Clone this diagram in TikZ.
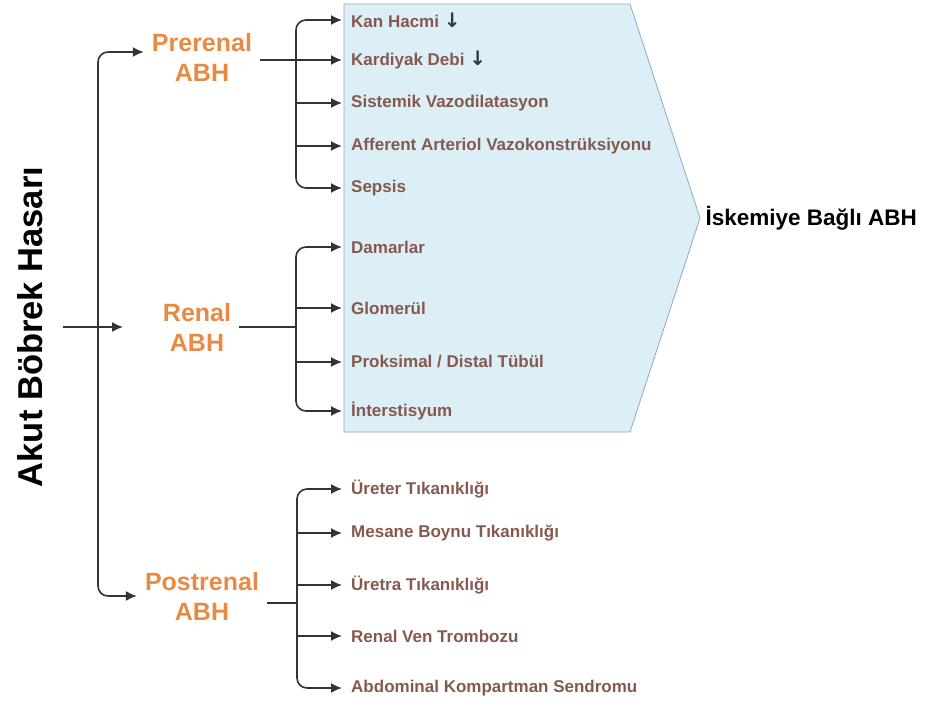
\documentclass[tikz,border=0pt]{standalone}
\usepackage{fontspec}
\setmainfont{Liberation Sans}
\newfontfamily\arrowfont{DejaVu Sans}
\usetikzlibrary{arrows.meta}

\definecolor{linegray}{HTML}{333333}
\definecolor{abhorange}{HTML}{E98A44}
\definecolor{itembrown}{HTML}{86594F}
\definecolor{boxfill}{HTML}{DCEEF6}
\definecolor{boxedge}{HTML}{90A8C8}
\definecolor{arrowdark}{HTML}{2F3A44}

\begin{document}
\begin{tikzpicture}[x=1pt, y=-1pt,
        link/.style={draw=linegray, line width=1.6pt},
        arr/.style={link, -{Latex[length=11pt,width=10pt]}},
        elbow/.style={arr, rounded corners=10pt},
        title/.style={rotate=90, font=\fontsize{34.5}{40}\selectfont\bfseries},
        group/.style={text=abhorange, align=center, inner sep=8pt,
            font=\fontsize{25}{30}\selectfont\bfseries},
        item/.style={anchor=west, inner xsep=9pt, inner ysep=2pt, text=itembrown,
            font=\fontsize{17}{20}\selectfont\bfseries}]
        \useasboundingbox (0,0) rectangle (933,706);

        % ischemia area
        \draw [boxedge, fill=boxfill, line width=0.8pt]
            (344,4) -- (630,4) -- (700,218) -- (630,432) -- (344,432) -- cycle;
        \node (isk) [anchor=west, font=\fontsize{22.5}{26}\selectfont\bfseries] at (702,218) {İskemiye Bağlı ABH};

        \node (akut) [title] at (30,327) {Akut Böbrek Hasarı};
        \node (pre) [group] at (202,57) {Prerenal\\ABH};
        \node (ren) [group] at (197,327) {Renal\\ABH};
        \node (post) [group] at (202,596) {Postrenal\\ABH};

        \node (kh) [item] at (342,20) {Kan Hacmi {\arrowfont\fontsize{20}{20}\selectfont\color{arrowdark}↓}};
        \node (kd) [item] at (342,60) {Kardiyak Debi {\arrowfont\fontsize{20}{20}\selectfont\color{arrowdark}↓}};
        \node (sv) [item] at (342,103) {Sistemik Vazodilatasyon};
        \node (aa) [item] at (342,146) {Afferent Arteriol Vazokonstrüksiyonu};
        \node (sp) [item] at (342,188) {Sepsis};

        \node (dam) [item] at (342,247) {Damarlar};
        \node (glo) [item] at (342,308) {Glomerül};
        \node (pdt) [item] at (342,362) {Proksimal / Distal Tübül};
        \node (int) [item] at (342,411) {İnterstisyum};

        \node (ut) [item] at (342,489) {Üreter Tıkanıklığı};
        \node (mb) [item] at (342,533) {Mesane Boynu Tıkanıklığı};
        \node (ur) [item] at (342,585) {Üretra Tıkanıklığı};
        \node (rv) [item] at (342,636) {Renal Ven Trombozu};
        \node (ak) [item] at (342,688) {Abdominal Kompartman Sendromu};

        \coordinate (spine) at (98,327);
        \coordinate (inA) at (63,327);
        \coordinate (inB) at (123,327);
        \coordinate (pb) at (296,60);
        \coordinate (rb) at (296,327);
        \coordinate (qb) at (297,603);

        % main split
        \draw [arr] (inA) -- (inB);
        \draw [elbow] (spine) |- ([yshift=5pt]pre.west);
        \draw [elbow] (spine) |- (post.west);

        % prerenal
        \draw [arr] (pre.east |- kd.west) -- (kd.west);
        \draw [elbow] (pb) |- (kh.west);
        \draw [elbow] (pb) |- (sp.west);
        \path (sv.west -| pb) edge [arr] (sv.west)
              (aa.west -| pb) edge [arr] (aa.west);

        % renal
        \draw [link] (ren.east) -- (rb);
        \draw [elbow] (rb) |- (dam.west);
        \draw [elbow] (rb) |- (int.west);
        \path (glo.west -| rb) edge [arr] (glo.west)
              (pdt.west -| rb) edge [arr] (pdt.west);

        % postrenal
        \draw [link] (post.east |- qb) -- (qb);
        \draw [elbow] (qb) |- (ut.west);
        \draw [elbow] (qb) |- (ak.west);
        \path (mb.west -| qb) edge [arr] (mb.west)
              (ur.west -| qb) edge [arr] (ur.west)
              (rv.west -| qb) edge [arr] (rv.west);
    \end{tikzpicture}
\end{document}
